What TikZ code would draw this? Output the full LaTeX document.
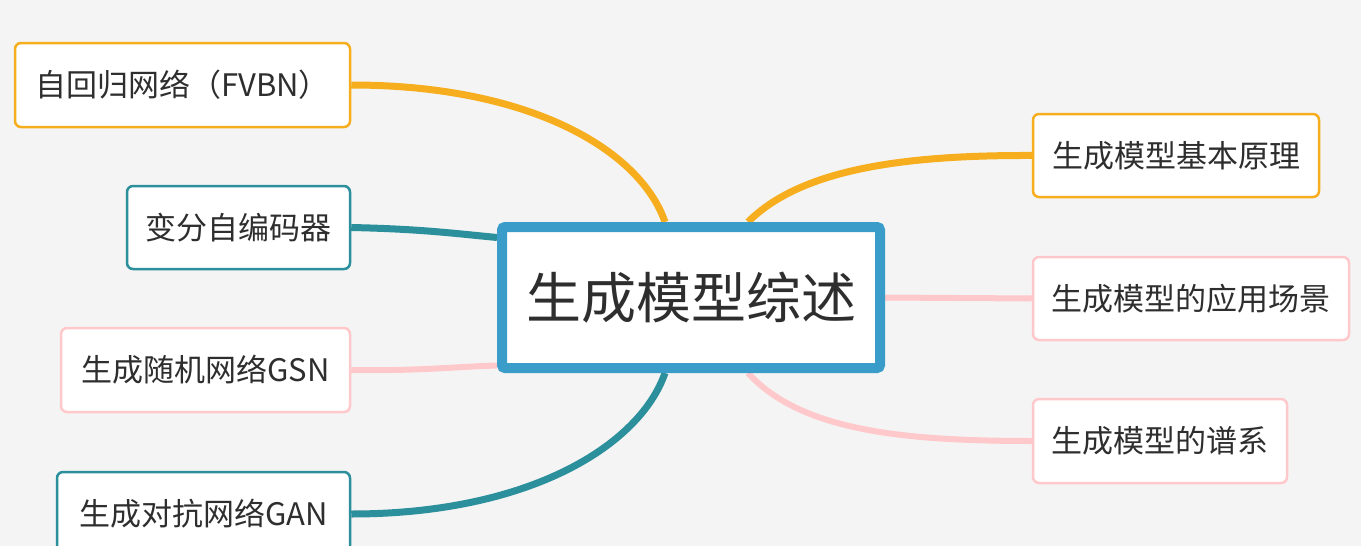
\documentclass[tikz,border=0pt]{standalone}
\usepackage{fontspec}
\newfontfamily\cjk{Noto Sans CJK SC}
\usetikzlibrary{backgrounds}
\definecolor{bgc}{HTML}{F4F4F4}
\definecolor{orangec}{HTML}{F7AE1E}
\definecolor{tealc}{HTML}{2B8F9C}
\definecolor{pinkc}{HTML}{FFC8CA}
\definecolor{bluec}{HTML}{3A9DC9}
\definecolor{txt}{HTML}{2E2E2E}
\tikzset{
  leaf/.style={draw, fill=white, line width=2.5pt, rounded corners=6pt, inner sep=0pt,
    text=txt, font=\cjk\fontsize{31}{36}\selectfont, anchor=center},
  root/.style={draw=bluec, fill=white, line width=10pt, rounded corners=3pt, inner sep=0pt,
    text=txt, font=\cjk\fontsize{55}{60}\selectfont},
  link/.style={line width=7pt},
}
\begin{document}
\begin{tikzpicture}[x=1pt,y=-1pt]
\useasboundingbox (0,0) rectangle (1361,546);
% central
\node[root, minimum width=378pt, minimum height=141pt] (c) at (691,297.5) {生成模型综述};
% left
\node[leaf, draw=orangec, minimum width=335pt, minimum height=84pt] (fvbn) at (182.5,85) {自回归网络（FVBN）\hspace{14pt}};
\node[leaf, draw=tealc, minimum width=223pt, minimum height=83pt] (vae) at (238.5,227.5) {变分自编码器};
\node[leaf, draw=pinkc, minimum width=289pt, minimum height=84pt] (gsn) at (205.5,370) {生成随机网络GSN};
\node[leaf, draw=tealc, minimum width=293pt, minimum height=84pt] (gan) at (203.5,514) {生成对抗网络GAN};
% right
\node[leaf, draw=orangec, minimum width=286pt, minimum height=83pt] (p1) at (1176,155.5) {生成模型基本原理};
\node[leaf, draw=pinkc, minimum width=316pt, minimum height=83pt] (p2) at (1191,298.5) {生成模型的应用场景};
\node[leaf, draw=pinkc, minimum width=254pt, minimum height=84pt] (p3) at (1160,441) {生成模型的谱系};
\begin{scope}[on background layer]
\fill[bgc] (0,0) rectangle (1361,546);
\coordinate (ct1) at ([xshift=-26pt]c.north);
\coordinate (ct2) at ([xshift=57pt]c.north);
\coordinate (cb1) at ([xshift=-26pt]c.south);
\coordinate (cb2) at ([xshift=57pt]c.south);
\draw[link, orangec] (fvbn.east) .. controls (530,85) and (640,150) .. (ct1);
\draw[link, tealc] (vae.east) .. controls (420,229) and (450,233) .. ([yshift=60pt]c.west);
\draw[link, pinkc, line width=6pt] (gsn.east) .. controls (420,371) and (450,367) .. ([yshift=-68pt]c.west);
\draw[link, tealc] (gan.east) .. controls (530,514) and (640,445) .. (cb1);
\draw[link, orangec] (ct2) .. controls (800,170) and (900,155) .. (p1.west);
\draw[link, pinkc, line width=6pt] (c.east) -- (p2.west);
\draw[link, pinkc, line width=6pt] (cb2) .. controls (800,430) and (900,441) .. (p3.west);
\end{scope}
\end{tikzpicture}
\end{document}
